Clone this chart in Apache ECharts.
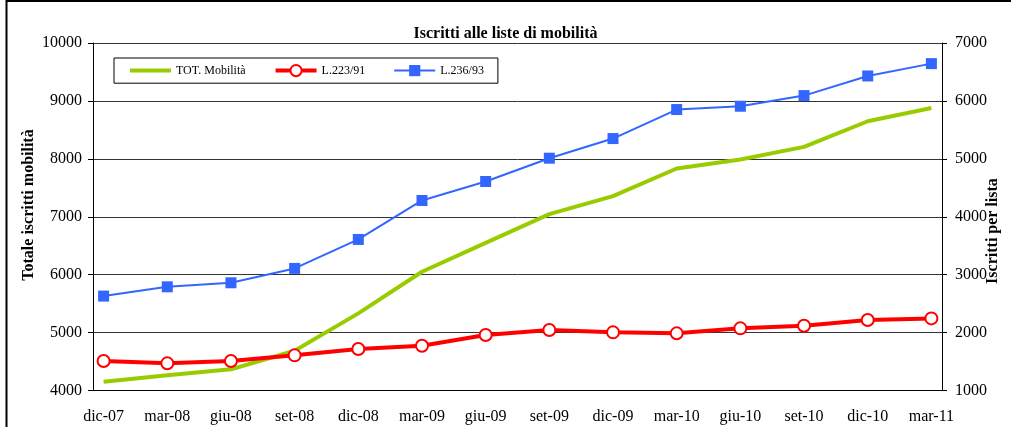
<!DOCTYPE html>
<html>
<head>
<meta charset="utf-8">
<script src="https://cdn.jsdelivr.net/npm/echarts@6/dist/echarts.min.js"></script>
<style>
html,body{margin:0;padding:0;background:#fff;}
#chart{width:1011px;height:427px;}
</style>
</head>
<body>
<div id="chart"></div>
<script>
// Quarter labels (ticks every 3 months on a monthly axis)
const quarters = ['dic-07','mar-08','giu-08','set-08','dic-08','mar-09','giu-09','set-09','dic-09','mar-10','giu-10','set-10','dic-10','mar-11'];
// Series values
const totMobilita = [4152, 4262, 4366, 4687, 5332, 6050, 6550, 7045, 7355, 7833, 7988, 8206, 8649, 8878];
const l223 = [1509, 1469, 1509, 1607, 1716, 1773, 1957, 2044, 2004, 1987, 2073, 2118, 2216, 2245];
const l236 = [2630, 2790, 2860, 3108, 3608, 4281, 4609, 5011, 5350, 5851, 5908, 6092, 6431, 6644];
// Axis tick labels
const leftTicks = [4000, 5000, 6000, 7000, 8000, 9000, 10000];
const rightTicks = [1000, 2000, 3000, 4000, 5000, 6000, 7000];

// monthly categories: each quarter label followed by two unlabeled months
const months = [];
quarters.forEach((q, i) => {
  months.push(q);
  if (i < quarters.length - 1) { months.push(q + '+1'); months.push(q + '+2'); }
});
const toPairs = arr => arr.map((v, i) => [i * 3, v]);

const FONT = '"Liberation Serif","Times New Roman",serif';
const chart = echarts.init(document.getElementById('chart'), null, {renderer: 'canvas'});
chart.setOption({
  animation: false,
  backgroundColor: '#fff',
  title: {
    text: 'Iscritti alle liste di mobilità',
    left: 'center', top: 26, padding: 0,
    textStyle: {fontFamily: FONT, fontSize: 16, fontWeight: 'bold', color: '#000'}
  },
  legend: {
    left: 114, top: 58,
    padding: [6, 14, 6, 14],
    borderColor: '#000', borderWidth: 1,
    itemWidth: 41, itemHeight: 14, itemGap: 28,
    textStyle: {fontFamily: FONT, fontSize: 12, color: '#000'},
    data: [
      {name: 'TOT. Mobilità', itemStyle: {opacity: 0}, lineStyle: {width: 4}},
      {name: 'L.223/91', lineStyle: {width: 4}},
      {name: 'L.236/93', lineStyle: {width: 2}}
    ]
  },
  grid: {left: 93, right: 69, top: 43, bottom: 36.5},
  xAxis: {
    type: 'category',
    boundaryGap: true,
    data: months,
    axisLine: {lineStyle: {color: '#000', width: 1}},
    axisTick: {interval: 2, length: 5, lineStyle: {color: '#000'}},
    axisLabel: {interval: 2, margin: 18, fontFamily: FONT, fontSize: 16, color: '#000'},
    splitLine: {show: false}
  },
  yAxis: [{
    type: 'value',
    min: leftTicks[0], max: leftTicks[leftTicks.length - 1], interval: 1000,
    axisLine: {show: true, lineStyle: {color: '#000', width: 1}},
    axisTick: {show: true, length: 5, lineStyle: {color: '#000'}},
    axisLabel: {margin: 11, fontFamily: FONT, fontSize: 16, color: '#000', formatter: v => String(v)},
    splitLine: {show: true, lineStyle: {color: '#333', width: 1}}
  }, {
    type: 'value',
    min: rightTicks[0], max: rightTicks[rightTicks.length - 1], interval: 1000,
    position: 'right',
    axisLine: {show: true, lineStyle: {color: '#000', width: 1}},
    axisTick: {show: true, length: 5, lineStyle: {color: '#000'}},
    axisLabel: {margin: 13, fontFamily: FONT, fontSize: 16, color: '#000', formatter: v => String(v)},
    splitLine: {show: false}
  }],
  graphic: [
    {type: 'rect', silent: true, shape: {x: 6.5, y: 1, width: 2000, height: 2000},
     style: {fill: 'none', stroke: '#000', lineWidth: 2}},
    {type: 'text', silent: true, x: 29, y: 205, rotation: Math.PI / 2,
     style: {text: 'Totale iscritti mobilità', fontFamily: FONT, fontSize: 16, fontWeight: 'bold',
             fill: '#000', align: 'center', verticalAlign: 'middle'}},
    {type: 'text', silent: true, x: 993, y: 231, rotation: Math.PI / 2,
     style: {text: 'Iscritti per lista', fontFamily: FONT, fontSize: 16, fontWeight: 'bold',
             fill: '#000', align: 'center', verticalAlign: 'middle'}}
  ],
  series: [{
    name: 'TOT. Mobilità', type: 'line', yAxisIndex: 0,
    data: toPairs(totMobilita),
    symbol: 'none', showSymbol: false,
    lineStyle: {color: '#99CC00', width: 4},
    itemStyle: {color: '#99CC00'},
    z: 2
  }, {
    name: 'L.223/91', type: 'line', yAxisIndex: 1,
    data: toPairs(l223),
    symbol: 'circle', symbolSize: 12,
    lineStyle: {color: '#FF0000', width: 4},
    itemStyle: {color: '#fff', borderColor: '#FF0000', borderWidth: 2},
    z: 3
  }, {
    name: 'L.236/93', type: 'line', yAxisIndex: 1,
    data: toPairs(l236),
    symbol: 'rect', symbolSize: 11,
    lineStyle: {color: '#3366FF', width: 2},
    itemStyle: {color: '#3366FF'},
    z: 4
  }]
});
</script>
</body>
</html>
